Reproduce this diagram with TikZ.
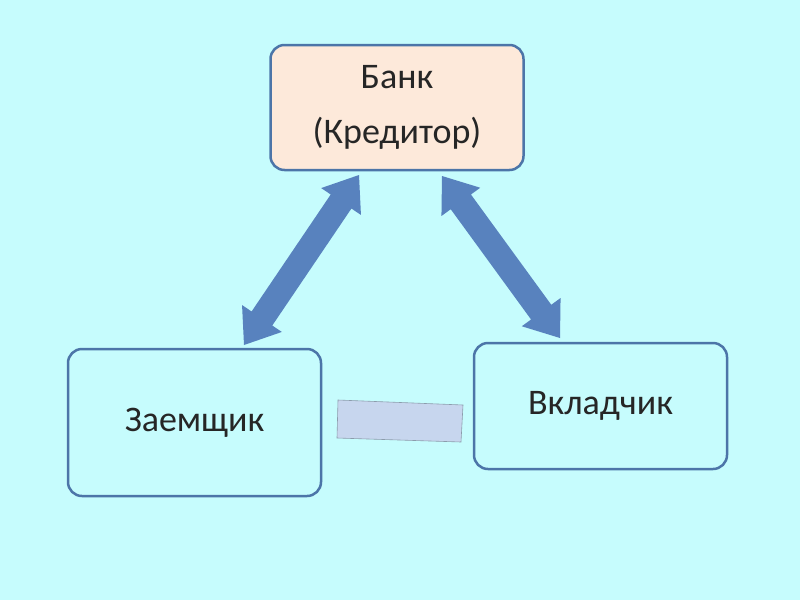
\documentclass[tikz,border=0pt]{standalone}
\usepackage{fontspec}
\setmainfont{Carlito}
\usetikzlibrary{calc}
\definecolor{bg}{HTML}{C6FCFD}
\definecolor{boxline}{HTML}{4C75A8}
\definecolor{peach}{HTML}{FDE9DA}
\definecolor{arrfill}{HTML}{5882BE}
\definecolor{rectfill}{HTML}{C7D6EE}
\definecolor{rectline}{HTML}{8C9CAC}
\tikzset{
  box/.style={draw=boxline, line width=2.5pt, rounded corners=14pt, minimum width=253pt, inner sep=0pt, font=\fontsize{36}{55}\selectfont, text=black!85, align=center},
  arrowfill/.style={fill=arrfill}
}
\newcommand\blockarr[2]{%
  \coordinate (h1) at ($(#1)!32pt!(#2)$);
  \coordinate (h2) at ($(#2)!32pt!(#1)$);
  \fill[arrowfill] (#1) -- ($(h1)!24pt!90:(#1)$) -- ($(h1)!12.5pt!90:(#1)$)
    -- ($(h2)!12.5pt!-90:(#2)$) -- ($(h2)!24pt!-90:(#2)$) -- (#2)
    -- ($(h2)!24pt!90:(#2)$) -- ($(h2)!12.5pt!90:(#2)$)
    -- ($(h1)!12.5pt!-90:(#1)$) -- ($(h1)!24pt!-90:(#1)$) -- cycle;}
\begin{document}
\begin{tikzpicture}[x=1pt,y=-1pt]
\fill[bg] (0,0) rectangle (800,600);
\useasboundingbox (0,0) rectangle (800,600);
\node[box, fill=peach, minimum height=125pt] (bank) at (397,107.5) {Банк\\(Кредитор)};
\node[box, fill=bg, minimum height=147pt] (borrower) at (194.5,422.5) {Заемщик};
\node[box, fill=bg, minimum height=126pt] (depositor) at (600.5,406) {Вкладчик};
\coordinate (a1) at (359,175);
\coordinate (a2) at (244,345);
\coordinate (b1) at (442,176);
\coordinate (b2) at (560,338);
\blockarr{a1}{a2}
\blockarr{b1}{b2}
\filldraw[fill=rectfill, draw=rectline, line width=0.6pt] (338,400) -- (463,405) -- (461,442) -- (337,438) -- cycle;
\end{tikzpicture}
\end{document}
